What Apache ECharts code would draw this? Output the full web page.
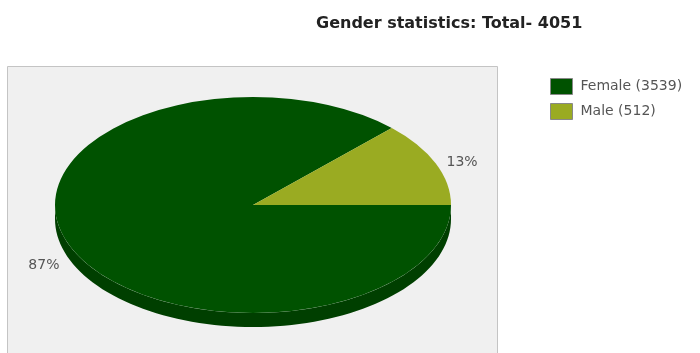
<!DOCTYPE html>
<html><head><meta charset="utf-8">
<script src="https://cdn.jsdelivr.net/npm/echarts@6/dist/echarts.min.js"></script>
<style>html,body{margin:0;padding:0;background:#fff}#c{width:700px;height:353px}</style>
</head><body><div id="c"></div>
<script>
const titleText = 'Gender statistics: Total- 4051';
const categories = ['Female', 'Male'];
const values = [3539, 512];
const colors = ['#005200', '#9aab22'];
const sideColors = ['#003f00', '#6f7d18'];

const total = values.reduce((a, b) => a + b, 0);
const CX = 253, CY = 205, RX = 198, RY = 108, DEPTH = 14;

function ellPt(t, dy) { return [CX + RX * Math.cos(t), CY + RY * Math.sin(t) + (dy || 0)]; }

function makeRender(i) {
  return function (params, api) {
    const v = api.value(0);
    let s = 0; for (let k = 0; k < i; k++) s += values[k];
    const a0 = s / total * 2 * Math.PI, a1 = (s + v) / total * 2 * Math.PI;
    const children = [];
    const b0 = Math.max(a0, 0), b1 = Math.min(a1, Math.PI);
    if (b1 > b0) {
      const pts = []; const n = 80;
      for (let j = 0; j <= n; j++) { const t = b0 + (b1 - b0) * j / n; pts.push(ellPt(t, 0)); }
      for (let j = n; j >= 0; j--) { const t = b0 + (b1 - b0) * j / n; pts.push(ellPt(t, DEPTH)); }
      children.push({ type: 'polygon', z2: 1, shape: { points: pts }, style: { fill: sideColors[i] } });
    }
    children.push({
      type: 'group', x: CX, y: CY, scaleY: RY / RX,
      children: [{ type: 'sector', z2: 2, shape: { cx: 0, cy: 0, r: RX, r0: 0, startAngle: a0, endAngle: a1, clockwise: true }, style: { fill: colors[i] } }]
    });
    const m = (a0 + a1) / 2, k = 1.06;
    const cm = Math.cos(m), sm = Math.sin(m);
    const lx = CX + RX * k * cm, ly = CY + RY * k * sm + (sm > 0 ? DEPTH : 0) + 2;
    children.push({
      type: 'text', z2: 3, x: lx, y: ly,
      style: { text: Math.round(v / total * 100) + '%', fill: '#555', font: '14px "DejaVu Sans"', align: cm >= 0 ? 'left' : 'right', verticalAlign: 'middle' }
    });
    return { type: 'group', children };
  };
}

const chart = echarts.init(document.getElementById('c'), null, { renderer: 'canvas' });
chart.setOption({
  animation: false,
  title: {
    text: titleText, left: 311, top: 11,
    textStyle: { fontFamily: 'DejaVu Sans', fontWeight: 'bold', fontSize: 16, color: '#222' }
  },
  legend: {
    orient: 'vertical', left: 545, top: 73, itemWidth: 22, itemHeight: 16, itemGap: 8,
    icon: 'rect', selectedMode: false,
    itemStyle: { borderColor: '#888', borderWidth: 1 },
    textStyle: { fontFamily: 'DejaVu Sans', fontSize: 14, color: '#555', padding: [0, 0, 0, 3] },
    data: categories.map((c, i) => c + ' (' + values[i] + ')')
  },
  graphic: [{
    type: 'rect', left: 7, top: 66, z: 0, silent: true,
    shape: { width: 490, height: 300 },
    style: { fill: '#f0f0f0', stroke: '#c4c4c4', lineWidth: 1 }
  }],
  series: categories.map((c, i) => ({
    type: 'custom', name: c + ' (' + values[i] + ')', coordinateSystem: 'none', silent: true, z: 2,
    itemStyle: { color: colors[i] },
    renderItem: makeRender(i),
    data: [[values[i]]]
  }))
});
</script></body></html>
